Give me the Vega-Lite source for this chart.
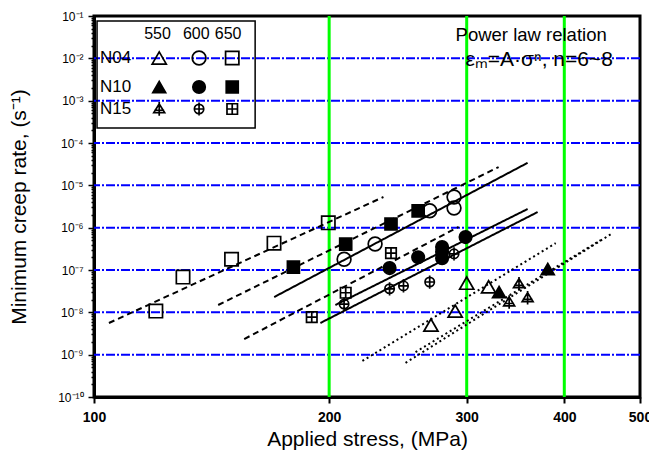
{
  "$schema": "https://vega.github.io/schema/vega-lite/v6.json",
  "width": 546,
  "height": 381,
  "autosize": {"type": "none"},
  "padding": {"left": 94, "top": 16, "right": 9, "bottom": 59},
  "background": "white",
  "config": {
    "view": {"stroke": "black", "strokeWidth": 3},
    "font": "Liberation Sans",
    "text": {"font": "Liberation Sans", "color": "black"},
    "axisX": {
      "titleFontSize": 21,
      "titleFontWeight": "normal",
      "titleColor": "black",
      "titlePadding": 4,
      "grid": false,
      "labelFontSize": 14,
      "labelFontWeight": "bold",
      "labelColor": "black",
      "labelFlush": false,
      "labelOverlap": false,
      "labelPadding": 7,
      "tickSize": 6,
      "tickWidth": 2,
      "tickColor": "black",
      "domainColor": "black",
      "domainWidth": 3
    },
    "axisY": {
      "titleFontSize": 21,
      "titleFontWeight": "normal",
      "titleColor": "black",
      "titlePadding": 28,
      "grid": false,
      "labelFontSize": 12,
      "labelColor": "black",
      "labelPadding": 5,
      "labelOverlap": false,
      "tickWidth": 1.5,
      "tickColor": "black",
      "domainColor": "black",
      "domainWidth": 3
    }
  },
  "datasets": {
    "points": [
      {"series": "N04-650", "stress": 120, "rate": 1.07e-8},
      {"series": "N04-650", "stress": 130, "rate": 6.8e-8},
      {"series": "N04-650", "stress": 150, "rate": 1.8e-7},
      {"series": "N04-650", "stress": 170, "rate": 4.3e-7},
      {"series": "N04-650", "stress": 199.5, "rate": 1.3e-6},
      {"series": "N10-650", "stress": 180, "rate": 1.17e-7},
      {"series": "N10-650", "stress": 210, "rate": 4.1e-7},
      {"series": "N10-650", "stress": 240, "rate": 1.22e-6},
      {"series": "N10-650", "stress": 260, "rate": 2.5e-6},
      {"series": "N04-600", "stress": 209, "rate": 1.8e-7},
      {"series": "N04-600", "stress": 229, "rate": 4.1e-7},
      {"series": "N04-600", "stress": 269, "rate": 2.5e-6},
      {"series": "N04-600", "stress": 289, "rate": 5.3e-6},
      {"series": "N04-600", "stress": 289, "rate": 2.9e-6},
      {"series": "N10-600", "stress": 239, "rate": 1.11e-7},
      {"series": "N10-600", "stress": 260, "rate": 2.0e-7},
      {"series": "N10-600", "stress": 279, "rate": 3.5e-7},
      {"series": "N10-600", "stress": 279, "rate": 2.7e-7},
      {"series": "N10-600", "stress": 279, "rate": 1.9e-7},
      {"series": "N10-600", "stress": 299, "rate": 6.0e-7},
      {"series": "N15-650", "stress": 190, "rate": 7.7e-9},
      {"series": "N15-650", "stress": 210, "rate": 2.9e-8},
      {"series": "N15-650", "stress": 240, "rate": 2.5e-7},
      {"series": "N15-600", "stress": 209, "rate": 1.57e-8},
      {"series": "N15-600", "stress": 239, "rate": 3.6e-8},
      {"series": "N15-600", "stress": 249, "rate": 4.2e-8},
      {"series": "N15-600", "stress": 269, "rate": 5.2e-8},
      {"series": "N15-600", "stress": 289, "rate": 2.4e-7},
      {"series": "N04-550", "stress": 270, "rate": 5.0e-9},
      {"series": "N04-550", "stress": 290, "rate": 1.07e-8},
      {"series": "N04-550", "stress": 300, "rate": 4.9e-8},
      {"series": "N04-550", "stress": 320, "rate": 4.0e-8},
      {"series": "N10-550", "stress": 330, "rate": 3.0e-8},
      {"series": "N10-550", "stress": 381, "rate": 1.05e-7},
      {"series": "N15-550", "stress": 340, "rate": 1.75e-8},
      {"series": "N15-550", "stress": 350, "rate": 4.7e-8},
      {"series": "N15-550", "stress": 359, "rate": 2.2e-8}
    ],
    "fits": [
      {"fit": "N04-650", "T": "650", "stress": 104.5, "rate": 5.6e-9},
      {"fit": "N04-650", "T": "650", "stress": 234.7, "rate": 5.3e-6},
      {"fit": "N10-650", "T": "650", "stress": 144.2, "rate": 1.49e-8},
      {"fit": "N10-650", "T": "650", "stress": 329.6, "rate": 2.7e-5},
      {"fit": "N15-650", "T": "650", "stress": 155.7, "rate": 2.34e-9},
      {"fit": "N15-650", "T": "650", "stress": 292.9, "rate": 1.04e-6},
      {"fit": "N04-600", "T": "600", "stress": 170.1, "rate": 2.3e-8},
      {"fit": "N04-600", "T": "600", "stress": 359, "rate": 3.4e-5},
      {"fit": "N10-600", "T": "600", "stress": 203.7, "rate": 1.49e-8},
      {"fit": "N10-600", "T": "600", "stress": 359, "rate": 2.76e-6},
      {"fit": "N15-600", "T": "600", "stress": 194.9, "rate": 5.6e-9},
      {"fit": "N15-600", "T": "600", "stress": 369.8, "rate": 2.34e-6},
      {"fit": "N04-550", "T": "550", "stress": 220.6, "rate": 7.1e-10},
      {"fit": "N04-550", "T": "550", "stress": 390, "rate": 4.3e-7},
      {"fit": "N10-550", "T": "550", "stress": 250.5, "rate": 6.4e-10},
      {"fit": "N10-550", "T": "550", "stress": 461.5, "rate": 7.5e-7},
      {"fit": "N15-550", "T": "550", "stress": 258, "rate": 1.15e-9},
      {"fit": "N15-550", "T": "550", "stress": 445.5, "rate": 5.1e-7}
    ],
    "legendSymbols": [
      {"series": "N04-550", "stress": 121.2, "rate": 1.02e-2},
      {"series": "N04-600", "stress": 136.3, "rate": 1.02e-2},
      {"series": "N04-650", "stress": 150.3, "rate": 1.02e-2},
      {"series": "N10-550", "stress": 121.2, "rate": 2.1e-3},
      {"series": "N10-600", "stress": 136.3, "rate": 2.1e-3},
      {"series": "N10-650", "stress": 150.3, "rate": 2.1e-3},
      {"series": "N15-550", "stress": 121.2, "rate": 6.35e-4},
      {"series": "N15-600", "stress": 136.3, "rate": 6.35e-4},
      {"series": "N15-650", "stress": 150.3, "rate": 6.35e-4}
    ],
    "legendHeader": [
      {"label": "550", "stress": 120.6, "rate": 0.0376},
      {"label": "600", "stress": 135.2, "rate": 0.0376},
      {"label": "650", "stress": 148.5, "rate": 0.0376}
    ],
    "legendRows": [
      {"label": "N04", "stress": 101.8, "rate": 1.02e-2},
      {"label": "N10", "stress": 101.8, "rate": 2.1e-3},
      {"label": "N15", "stress": 101.8, "rate": 6.35e-4}
    ],
    "legendBox": [
      {"stress": 100.9, "stress2": 160.8, "rate": 0.0762, "rate2": 2.26e-4}
    ],
    "noteTitle": [
      {"label": "Power law relation", "stress": 290.3, "rate": 0.0356}
    ],
    "noteFormula": [
      {"label": "εₘ=A·σⁿ,  n=6~8", "stress": 298.9, "rate": 9.1e-3}
    ],
    "hgrid": [
      {"rate": 1e-9}, {"rate": 1e-8}, {"rate": 1e-7}, {"rate": 1e-6},
      {"rate": 1e-5}, {"rate": 1e-4}, {"rate": 1e-3}, {"rate": 1e-2}
    ],
    "vgrid": [
      {"stress": 200}, {"stress": 300}, {"stress": 400}
    ]
  },
  "layer": [
    {
      "data": {"name": "hgrid"},
      "mark": {"type": "rule", "color": "#0000ff", "strokeWidth": 2, "strokeDash": [9, 2, 2, 2]},
      "encoding": {
        "y": {"field": "rate", "type": "quantitative", "scale": {"type": "log", "domain": [1e-10, 0.1], "nice": false},
          "axis": {
            "title": "Minimum creep rate, (s⁻¹)",
            "values": [1e-10, 2e-10, 3e-10, 4e-10, 5e-10, 6e-10, 7e-10, 8e-10, 9e-10,
              1e-9, 2e-9, 3e-9, 4e-9, 5e-9, 6e-9, 7e-9, 8e-9, 9e-9,
              1e-8, 2e-8, 3e-8, 4e-8, 5e-8, 6e-8, 7e-8, 8e-8, 9e-8,
              1e-7, 2e-7, 3e-7, 4e-7, 5e-7, 6e-7, 7e-7, 8e-7, 9e-7,
              1e-6, 2e-6, 3e-6, 4e-6, 5e-6, 6e-6, 7e-6, 8e-6, 9e-6,
              1e-5, 2e-5, 3e-5, 4e-5, 5e-5, 6e-5, 7e-5, 8e-5, 9e-5,
              1e-4, 2e-4, 3e-4, 4e-4, 5e-4, 6e-4, 7e-4, 8e-4, 9e-4,
              1e-3, 2e-3, 3e-3, 4e-3, 5e-3, 6e-3, 7e-3, 8e-3, 9e-3,
              1e-2, 2e-2, 3e-2, 4e-2, 5e-2, 6e-2, 7e-2, 8e-2, 9e-2, 1e-1],
            "labelExpr": "abs(log(datum.value)/LN10 - round(log(datum.value)/LN10)) < 0.000001 ? '10' + ['⁻¹⁰','⁻⁹','⁻⁸','⁻⁷','⁻⁶','⁻⁵','⁻⁴','⁻³','⁻²','⁻¹'][round(log(datum.value)/LN10) + 10] : ''",
            "tickSize": {"condition": {"test": "abs(log(datum.value)/LN10 - round(log(datum.value)/LN10)) < 0.000001", "value": 6}, "value": 3}
          }
        }
      }
    },
    {
      "data": {"name": "vgrid"},
      "mark": {"type": "rule", "color": "#00ff00", "strokeWidth": 3},
      "encoding": {
        "x": {"field": "stress", "type": "quantitative", "scale": {"type": "log", "domain": [100, 500], "nice": false},
          "axis": {"title": "Applied stress, (MPa)", "values": [100, 200, 300, 400, 500]}}
      }
    },
    {
      "data": {"name": "legendBox"},
      "mark": {"type": "rect", "fillOpacity": 0, "stroke": "black", "strokeWidth": 1.5},
      "encoding": {
        "x": {"field": "stress", "type": "quantitative", "scale": {"type": "log", "domain": [100, 500], "nice": false}},
        "x2": {"field": "stress2"},
        "y": {"field": "rate", "type": "quantitative", "scale": {"type": "log", "domain": [1e-10, 0.1], "nice": false}},
        "y2": {"field": "rate2"}
      }
    },
    {
      "data": {"name": "fits"},
      "mark": {"type": "line", "color": "black", "strokeWidth": 2},
      "encoding": {
        "x": {"field": "stress", "type": "quantitative", "scale": {"type": "log", "domain": [100, 500], "nice": false}},
        "y": {"field": "rate", "type": "quantitative", "scale": {"type": "log", "domain": [1e-10, 0.1], "nice": false}},
        "detail": {"field": "fit"},
        "strokeDash": {"field": "T", "type": "nominal", "scale": {"domain": ["550", "600", "650"], "range": [[2, 3], [1, 0], [6, 4]]}, "legend": null}
      }
    },
    {
      "data": {"name": "points"},
      "mark": {"type": "point", "filled": true, "stroke": "black", "strokeWidth": 1.7, "opacity": 1},
      "encoding": {
        "x": {"field": "stress", "type": "quantitative", "scale": {"type": "log", "domain": [100, 500], "nice": false}},
        "y": {"field": "rate", "type": "quantitative", "scale": {"type": "log", "domain": [1e-10, 0.1], "nice": false}},
        "shape": {"field": "series", "type": "nominal", "legend": null,
          "scale": {"domain": ["N04-550", "N04-600", "N04-650", "N10-550", "N10-600", "N10-650", "N15-550", "N15-600", "N15-650"],
            "range": ["triangle-up", "circle", "square", "triangle-up", "circle", "square",
              "M0,-0.9L0.95,0.65L-0.95,0.65Z M0,-1.2V1.15 M-0.85,0.25H0.85",
              "M-0.85,0A0.85,0.85 0 1,0 0.85,0A0.85,0.85 0 1,0 -0.85,0Z M0,-1.2V1.2 M-0.85,0H0.85",
              "M-1,-1H1V1H-1Z M0,-1V1 M-1,0H1"]}},
        "fill": {"field": "series", "type": "nominal", "legend": null,
          "scale": {"domain": ["N04-550", "N04-600", "N04-650", "N10-550", "N10-600", "N10-650", "N15-550", "N15-600", "N15-650"],
            "range": ["transparent", "transparent", "transparent", "black", "black", "black", "transparent", "transparent", "transparent"]}},
        "size": {"field": "series", "type": "nominal", "legend": null,
          "scale": {"domain": ["N04-550", "N04-600", "N04-650", "N10-550", "N10-600", "N10-650", "N15-550", "N15-600", "N15-650"],
            "range": [200, 110, 130, 200, 110, 130, 280, 150, 140]}}
      }
    },
    {
      "data": {"name": "legendSymbols"},
      "mark": {"type": "point", "filled": true, "stroke": "black", "strokeWidth": 1.7, "opacity": 1},
      "encoding": {
        "x": {"field": "stress", "type": "quantitative", "scale": {"type": "log", "domain": [100, 500], "nice": false}},
        "y": {"field": "rate", "type": "quantitative", "scale": {"type": "log", "domain": [1e-10, 0.1], "nice": false}},
        "shape": {"field": "series", "type": "nominal", "legend": null},
        "fill": {"field": "series", "type": "nominal", "legend": null},
        "size": {"field": "series", "type": "nominal", "legend": null}
      }
    },
    {
      "data": {"name": "legendHeader"},
      "mark": {"type": "text", "fontSize": 16, "align": "center", "baseline": "middle"},
      "encoding": {
        "x": {"field": "stress", "type": "quantitative", "scale": {"type": "log", "domain": [100, 500], "nice": false}},
        "y": {"field": "rate", "type": "quantitative", "scale": {"type": "log", "domain": [1e-10, 0.1], "nice": false}},
        "text": {"field": "label"}
      }
    },
    {
      "data": {"name": "legendRows"},
      "mark": {"type": "text", "fontSize": 17, "align": "left", "baseline": "middle"},
      "encoding": {
        "x": {"field": "stress", "type": "quantitative", "scale": {"type": "log", "domain": [100, 500], "nice": false}},
        "y": {"field": "rate", "type": "quantitative", "scale": {"type": "log", "domain": [1e-10, 0.1], "nice": false}},
        "text": {"field": "label"}
      }
    },
    {
      "data": {"name": "noteTitle"},
      "mark": {"type": "text", "fontSize": 18.5, "align": "left", "baseline": "middle"},
      "encoding": {
        "x": {"field": "stress", "type": "quantitative", "scale": {"type": "log", "domain": [100, 500], "nice": false}},
        "y": {"field": "rate", "type": "quantitative", "scale": {"type": "log", "domain": [1e-10, 0.1], "nice": false}},
        "text": {"field": "label"}
      }
    },
    {
      "data": {"name": "noteFormula"},
      "mark": {"type": "text", "fontSize": 21, "align": "left", "baseline": "middle"},
      "encoding": {
        "x": {"field": "stress", "type": "quantitative", "scale": {"type": "log", "domain": [100, 500], "nice": false}},
        "y": {"field": "rate", "type": "quantitative", "scale": {"type": "log", "domain": [1e-10, 0.1], "nice": false}},
        "text": {"field": "label"}
      }
    }
  ]
}
